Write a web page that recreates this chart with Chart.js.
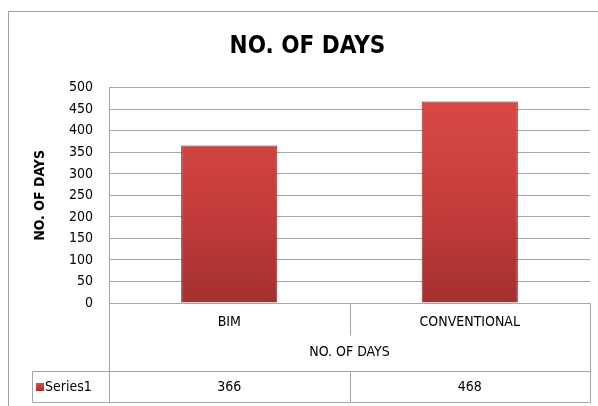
<!DOCTYPE html>
<html>
<head>
<meta charset="utf-8">
<script src="https://cdn.jsdelivr.net/npm/chart.js@4"></script>
<style>
  html, body { margin: 0; padding: 0; background: #fff; }
  #wrap { width: 598px; height: 406px; }
</style>
</head>
<body>
<div id="wrap"><canvas id="myChart" width="598" height="406"></canvas></div>
<script>
var ctx = document.getElementById("myChart").getContext("2d");

// data
var categories = ["BIM", "CONVENTIONAL"];
var series1 = [366, 468];
var seriesName = "Series1";
var yTicks = [0, 50, 100, 150, 200, 250, 300, 350, 400, 450, 500];

var FONT = "'DejaVu Sans Condensed', 'Liberation Sans', sans-serif";
var GRID = "#a6a6a6";

// outer frame + data table under the x axis
var tablePlugin = {
  id: "table",
  beforeDraw: function (chart) {
    var c = chart.ctx;
    c.save();
    c.strokeStyle = "#a0a0a0";
    c.lineWidth = 1;
    c.strokeRect(8.5, 11.5, 700, 500);
    c.restore();
  },
  afterDraw: function (chart) {
    var c = chart.ctx;
    var x = chart.scales.x;
    var area = chart.chartArea;
    var left = Math.round(area.left) + 0.5;
    var right = Math.round(area.right) + 0.5;
    var top = Math.round(area.bottom) + 0.5;
    var rowTop = Math.round(x.bottom) + 0.5;
    var rowBot = rowTop + 31;
    var keyLeft = 32.5;

    c.save();
    c.strokeStyle = GRID;
    c.lineWidth = 1;
    c.beginPath();
    // category part
    c.moveTo(left, top); c.lineTo(left, rowBot);
    c.moveTo(right, top); c.lineTo(right, rowBot);
    c.moveTo(left, top); c.lineTo(right, top);
    // series row
    c.moveTo(keyLeft, rowTop); c.lineTo(right, rowTop);
    c.moveTo(keyLeft, rowBot); c.lineTo(right, rowBot);
    c.moveTo(keyLeft, rowTop); c.lineTo(keyLeft, rowBot);
    // dividers between categories
    for (var i = 1; i < categories.length; i++) {
      var d = Math.round((x.getPixelForValue(i - 1) + x.getPixelForValue(i)) / 2) + 0.5;
      c.moveTo(d, top); c.lineTo(d, top + 32);
      c.moveTo(d, rowTop); c.lineTo(d, rowBot);
    }
    c.stroke();

    // legend key + name
    var midY = (rowTop + rowBot) / 2;
    var g = c.createLinearGradient(0, midY - 4, 0, midY + 4);
    g.addColorStop(0, "#d94b48");
    g.addColorStop(1, "#a33230");
    c.fillStyle = g;
    c.fillRect(36, midY - 4, 8, 8);
    c.fillStyle = "#000";
    c.font = "14px " + FONT;
    c.textBaseline = "middle";
    c.textAlign = "left";
    c.fillText(seriesName, 45, midY);

    // values
    c.textAlign = "center";
    series1.forEach(function (v, i) {
      c.fillText(String(v), x.getPixelForValue(i), midY);
    });
    c.restore();
  }
};

function barFill(context) {
  var chart = context.chart;
  var area = chart.chartArea;
  if (!area) return "#c83e3b";
  var g = chart.ctx.createLinearGradient(0, area.top, 0, area.bottom);
  g.addColorStop(0, "#da4a47");
  g.addColorStop(0.5, "#c83e3b");
  g.addColorStop(1, "#a3312f");
  return g;
}

var myChart = new Chart(ctx, {
  type: "bar",
  data: {
    labels: categories,
    datasets: [
      {
        label: seriesName,
        data: series1,
        backgroundColor: barFill,
        borderColor: "#8c2725",
        borderWidth: 1,
        barPercentage: 0.8,
        categoryPercentage: 0.5
      }
    ]
  },
  options: {
    responsive: false,
    animation: false,
    layout: { padding: { left: 25, right: 8, top: 0, bottom: 35 } },
    plugins: {
      legend: { display: false },
      tooltip: { enabled: false },
      title: {
        display: true,
        text: "NO. OF DAYS",
        color: "#000",
        font: { family: FONT, size: 24, weight: "bold" },
        padding: { top: 32, bottom: 27 }
      }
    },
    scales: {
      x: {
        grid: { display: false, drawTicks: false },
        border: { display: false },
        ticks: { color: "#000", padding: 11, font: { family: FONT, size: 14 } },
        title: {
          display: true,
          text: "NO. OF DAYS",
          color: "#000",
          font: { family: FONT, size: 14 },
          padding: { top: 4, bottom: 10 }
        },
        afterFit: function (s) { s.height = 68; }
      },
      y: {
        min: 0,
        max: 500,
        afterBuildTicks: function (s) {
          s.ticks = yTicks.map(function (v) { return { value: v }; });
        },
        grid: { color: GRID, drawTicks: false },
        border: { display: true, color: GRID },
        ticks: { color: "#000", padding: 16, font: { family: FONT, size: 14 } },
        title: {
          display: true,
          text: "NO. OF DAYS",
          color: "#000",
          font: { family: FONT, size: 14, weight: "bold" },
          padding: { top: 7, bottom: 4 }
        },
        afterFit: function (s) { s.width = 84; }
      }
    }
  },
  plugins: [tablePlugin]
});
</script>
</body>
</html>
